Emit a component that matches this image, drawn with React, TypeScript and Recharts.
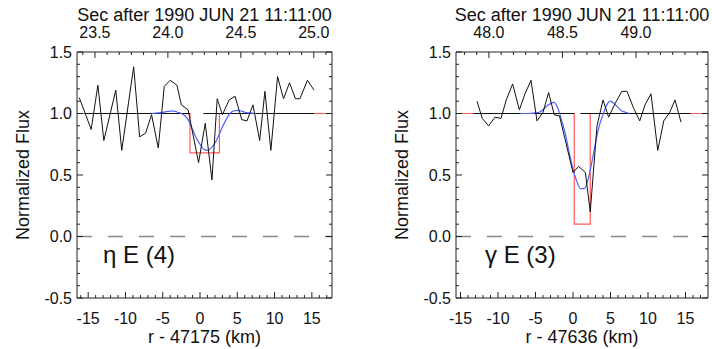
import React from 'react';
import { ComposedChart, Line, XAxis, YAxis, ReferenceLine } from 'recharts';

const FONT = '"Liberation Sans", Arial, Helvetica, sans-serif';

// ---------- shared ticks ----------
const yMajorTicks = [-0.5, 0, 0.5, 1.0, 1.5];
const yMajorLabels = ['-0.5', '0.0', '0.5', '1.0', '1.5'];
const kmMajorTicks = [-15, -10, -5, 0, 5, 10, 15];
const kmMajorLabels = ['-15', '-10', '-5', '0', '5', '10', '15'];

// ---------- eta E (4) ----------
const etaDomainKm = [-16.5, 17.7];
const etaDomainSec = [23.377, 25.125];
const etaSecMajors = [23.5, 24.0, 24.5, 25.0];
const etaSecLabels = ['23.5', '24.0', '24.5', '25.0'];
const etaDataKm = [-16.2, -14.6, -13.7, -12.9, -11.3, -10.5, -8.9, -8.1, -7.3, -6.5, -5.6, -4.8, -4.0, -3.1, -2.5, -1.6, -0.2, 0.7, 1.6, 2.3, 3.0, 3.9, 4.7, 5.6, 6.3, 7.1, 8.0, 8.7, 9.5, 10.4, 11.2, 12.0, 12.8, 13.4, 14.4, 15.3];
const etaDataFlux = [1.13, 0.87, 1.23, 0.78, 1.19, 0.70, 1.38, 0.81, 0.84, 0.99, 0.72, 1.22, 1.27, 1.23, 1.07, 1.03, 0.6, 0.92, 0.46, 1.12, 0.99, 1.11, 1.14, 0.95, 0.94, 1.07, 0.78, 1.18, 0.70, 1.30, 1.12, 1.25, 1.12, 1.12, 1.27, 1.19];
const etaSquareKm = [-16.5, -1.35, -1.35, 2.6, 2.6, 17.7];
const etaSquareFlux = [1, 1, 0.68, 0.68, 1, 1];
const etaFitKm = [-6.5, -5.5, -4.5, -4.0, -3.5, -3.0, -2.5, -2.0, -1.5, -1.0, -0.5, 0, 0.5, 1.0, 1.5, 2.0, 2.5, 3.0, 3.5, 4.0, 4.5, 5.0, 5.5, 6.0, 6.5, 7.5];
const etaFitFlux = [1.0, 1.005, 1.015, 1.02, 1.02, 1.01, 1.0, 0.98, 0.94, 0.87, 0.8, 0.75, 0.71, 0.7, 0.72, 0.76, 0.82, 0.89, 0.95, 1.0, 1.02, 1.025, 1.02, 1.01, 1.005, 1.0];
const etaBaseKm = [-15.5, -1.35, -0.5, 0.45, 15.3];
const etaBaseFlux: (number | null)[] = [1, 1, null, 1, 1];

// ---------- gamma E (3) ----------
const gamDomainKm = [-15.6, 18.0];
const gamDomainSec = [47.776, 49.49];
const gamSecMajors = [48.0, 48.5, 49.0];
const gamSecLabels = ['48.0', '48.5', '49.0'];
const gamDataKm = [-12.8, -12.1, -11.25, -10.4, -9.6, -8.9, -8.05, -7.15, -6.4, -5.6, -4.8, -4.0, -3.25, -2.5, -1.8, 0.0, 0.75, 1.65, 2.3, 3.2, 4.0, 4.75, 5.6, 6.5, 7.2, 8.1, 8.9, 9.6, 10.4, 11.3, 12.1, 12.9, 13.6, 14.4];
const gamDataFlux = [1.10, 0.96, 0.90, 0.97, 0.96, 1.11, 1.24, 1.03, 1.16, 1.27, 0.94, 1.01, 1.17, 0.99, 0.98, 0.52, 0.57, 0.52, 0.20, 0.90, 1.11, 0.97, 1.08, 1.18, 1.18, 1.04, 0.94, 1.07, 1.16, 0.70, 0.94, 1.01, 1.11, 0.93];
const gamSquareKm = [-15.6, 0.17, 0.17, 2.3, 2.3, 18.0];
const gamSquareFlux = [1, 1, 0.1, 0.1, 1, 1];
const gamFitKm = [-7.0, -6.0, -5.0, -4.5, -4.0, -3.5, -3.0, -2.5, -2.0, -1.5, -1.0, -0.5, 0, 0.5, 1.0, 1.5, 2.0, 2.5, 3.0, 3.5, 4.0, 4.5, 5.0, 5.5, 6.0, 6.5, 7.0, 7.5];
const gamFitFlux = [1.0, 1.0, 1.005, 1.01, 1.03, 1.06, 1.08, 1.09, 1.04, 0.94, 0.83, 0.68, 0.55, 0.45, 0.39, 0.39, 0.46, 0.6, 0.76, 0.9, 0.99, 1.07, 1.1, 1.08, 1.05, 1.02, 1.01, 1.0];
const gamBaseKm = [-13.3, 0.17, 0.6, 1.0, 15.7];
const gamBaseFlux: (number | null)[] = [1, 1, null, 1, 1];

// ---------- helpers ----------
type Pt = { x: number; y: number | null };
const zip = (xs: number[], ys: (number | null)[]): Pt[] => xs.map((x, i) => ({ x, y: ys[i] }));
const steps = (start: number, end: number, step: number) => {
  const n = Math.round((end - start) / step);
  const out: number[] = [];
  for (let i = 0; i <= n; i++) out.push(+(start + i * step).toFixed(6));
  return out;
};
const majorIndex = (majors: number[], v: number) => majors.findIndex((m) => Math.abs(m - v) < 1e-4);

const Y_MIN = -0.5;
const Y_MAX = 1.5;
const yTicks = steps(Y_MIN, Y_MAX, 0.1);

const leftTick = (props: any) => {
  const { x, y, payload } = props;
  const i = majorIndex(yMajorTicks, payload.value);
  return (
    <g>
      <line x1={x} x2={x + (i >= 0 ? 6 : 3)} y1={y} y2={y} stroke="#222" strokeWidth={1} />
      {i >= 0 && (
        <text x={x - 5} y={y} dy="0.36em" textAnchor="end" fontFamily={FONT} fontSize={16} fill="#111">
          {yMajorLabels[i]}
        </text>
      )}
    </g>
  );
};
const rightTick = (props: any) => {
  const { x, y, payload } = props;
  const i = majorIndex(yMajorTicks, payload.value);
  return (
    <g>
      <line x1={x} x2={x - (i >= 0 ? 6 : 3)} y1={y} y2={y} stroke="#222" strokeWidth={1} />
    </g>
  );
};
const bottomTick = (props: any) => {
  const { x, y, payload } = props;
  const i = majorIndex(kmMajorTicks, payload.value);
  return (
    <g>
      <line x1={x} x2={x} y1={y} y2={y - (i >= 0 ? 6 : 3)} stroke="#222" strokeWidth={1} />
      {i >= 0 && (
        <text x={x} y={y + 26} textAnchor="middle" fontFamily={FONT} fontSize={16} fill="#111">
          {kmMajorLabels[i]}
        </text>
      )}
    </g>
  );
};
const makeTopTick = (majors: number[], labels: string[]) => (props: any) => {
  const { x, y, payload } = props;
  const i = majorIndex(majors, payload.value);
  return (
    <g>
      <line x1={x} x2={x} y1={y} y2={y + (i >= 0 ? 6 : 3)} stroke="#222" strokeWidth={1} />
      {i >= 0 && (
        <text x={x} y={y - 14} textAnchor="middle" fontFamily={FONT} fontSize={16} fill="#111">
          {labels[i]}
        </text>
      )}
    </g>
  );
};

type PanelProps = {
  yAxisWidth: number;
  rightWidth: number;
  domainKm: number[];
  domainSec: number[];
  secMajors: number[];
  secLabels: string[];
  secTicks: number[];
  kmTicks: number[];
  data: Pt[];
  square: Pt[];
  fit: Pt[];
  base: Pt[];
  xTitle: string;
};

function Panel(p: PanelProps) {
  const secAnchor = [{ x: p.domainSec[0], y: 1 }, { x: p.domainSec[1], y: 1 }];
  return (
    <ComposedChart width={356} height={349} margin={{ top: 0, right: 0, bottom: 0, left: 0 }}>
      <XAxis
        xAxisId="top"
        orientation="top"
        dataKey="x"
        type="number"
        domain={p.domainSec}
        allowDataOverflow
        ticks={p.secTicks}
        interval={0}
        height={52}
        tickSize={0}
        tickMargin={0}
        tickLine={false}
        axisLine={{ stroke: '#222' }}
        tick={makeTopTick(p.secMajors, p.secLabels)}
        label={(lp: any) => {
          const vb = lp.viewBox || {};
          return (
            <text x={vb.x + vb.width / 2} y={vb.y + 21} textAnchor="middle" fontFamily={FONT} fontSize={18} fill="#111">
              Sec after 1990 JUN 21 11:11:00
            </text>
          );
        }}
      />
      <XAxis
        xAxisId="bottom"
        dataKey="x"
        type="number"
        domain={p.domainKm}
        allowDataOverflow
        ticks={p.kmTicks}
        interval={0}
        height={51}
        tickSize={0}
        tickMargin={0}
        tickLine={false}
        axisLine={{ stroke: '#222' }}
        tick={bottomTick}
        label={(lp: any) => {
          const vb = lp.viewBox || {};
          return (
            <text x={vb.x + vb.width / 2} y={vb.y + 45} textAnchor="middle" fontFamily={FONT} fontSize={18} fill="#111">
              {p.xTitle}
            </text>
          );
        }}
      />
      <YAxis
        yAxisId="left"
        type="number"
        domain={[Y_MIN, Y_MAX]}
        allowDataOverflow
        ticks={yTicks}
        interval={0}
        width={p.yAxisWidth}
        tickSize={0}
        tickMargin={0}
        tickLine={false}
        axisLine={{ stroke: '#222' }}
        tick={leftTick}
        label={(lp: any) => {
          const vb = lp.viewBox || {};
          const cx = vb.x + vb.width - 48;
          const cy = vb.y + vb.height / 2;
          return (
            <text x={cx} y={cy} transform={`rotate(-90, ${cx}, ${cy})`} textAnchor="middle" fontFamily={FONT} fontSize={18} fill="#111">
              Normalized Flux
            </text>
          );
        }}
      />
      <YAxis
        yAxisId="right"
        orientation="right"
        type="number"
        domain={[Y_MIN, Y_MAX]}
        allowDataOverflow
        ticks={yTicks}
        interval={0}
        width={p.rightWidth}
        tickSize={0}
        tickMargin={0}
        tickLine={false}
        axisLine={{ stroke: '#222' }}
        tick={rightTick}
      />
      <ReferenceLine xAxisId="bottom" yAxisId="left" y={0} stroke="#8a8a8a" strokeWidth={1.6} strokeDasharray="15 16" />
      <Line xAxisId="top" yAxisId="right" data={secAnchor} dataKey="y" stroke="none" dot={false} activeDot={false} isAnimationActive={false} />
      <Line xAxisId="bottom" yAxisId="left" data={p.square} dataKey="y" type="linear" stroke="#ff5a5a" strokeWidth={1.2} dot={false} isAnimationActive={false} />
      <Line xAxisId="bottom" yAxisId="left" data={p.base} dataKey="y" type="linear" stroke="#111111" strokeWidth={1} dot={false} connectNulls={false} isAnimationActive={false} />
      <Line xAxisId="bottom" yAxisId="left" data={p.fit} dataKey="y" type="monotone" stroke="#5060ff" strokeWidth={1.2} dot={false} isAnimationActive={false} />
      <Line xAxisId="bottom" yAxisId="left" data={p.data} dataKey="y" type="linear" stroke="#111111" strokeWidth={1} dot={false} isAnimationActive={false} />
    </ComposedChart>
  );
}

const panelLabel = (left: number, text: string) => (
  <div
    style={{
      position: 'absolute',
      left,
      top: 240,
      fontFamily: FONT,
      fontSize: 24,
      lineHeight: '30px',
      color: '#111',
      pointerEvents: 'none',
      whiteSpace: 'nowrap',
    }}
  >
    {text}
  </div>
);

export default function App() {
  return (
    <div style={{ position: 'absolute', left: 0, top: 0, display: 'flex', width: 712 }}>
      <Panel
        yAxisWidth={77}
        rightWidth={24}
        domainKm={etaDomainKm}
        domainSec={etaDomainSec}
        secMajors={etaSecMajors}
        secLabels={etaSecLabels}
        secTicks={steps(23.5 - 1 / 12, 25.0 + 1 / 12, 1 / 12)}
        kmTicks={steps(-16, 17, 1)}
        data={zip(etaDataKm, etaDataFlux)}
        square={zip(etaSquareKm, etaSquareFlux)}
        fit={zip(etaFitKm, etaFitFlux)}
        base={zip(etaBaseKm, etaBaseFlux)}
        xTitle="r - 47175 (km)"
      />
      <Panel
        yAxisWidth={100}
        rightWidth={4}
        domainKm={gamDomainKm}
        domainSec={gamDomainSec}
        secMajors={gamSecMajors}
        secLabels={gamSecLabels}
        secTicks={steps(48.0 - 2 / 12, 49.0 + 5 / 12, 1 / 12)}
        kmTicks={steps(-15, 17, 1)}
        data={zip(gamDataKm, gamDataFlux)}
        square={zip(gamSquareKm, gamSquareFlux)}
        fit={zip(gamFitKm, gamFitFlux)}
        base={zip(gamBaseKm, gamBaseFlux)}
        xTitle="r - 47636 (km)"
      />
      {panelLabel(103, 'η E (4)')}
      {panelLabel(485, 'γ E (3)')}
    </div>
  );
}
